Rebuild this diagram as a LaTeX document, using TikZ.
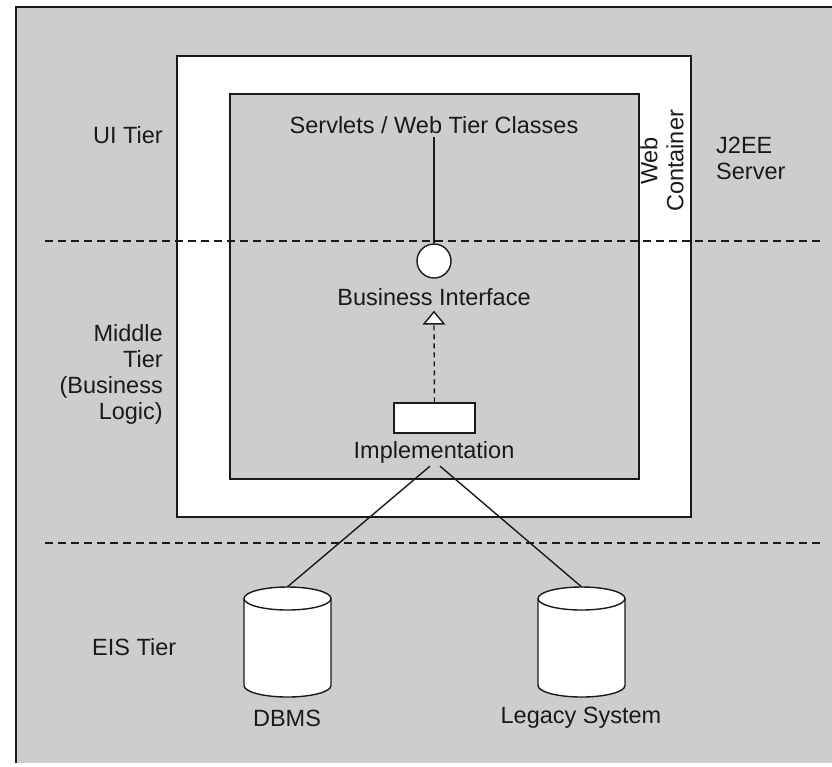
\documentclass[tikz,border=0pt]{standalone}
\usepackage{fontspec}
\setmainfont{Liberation Sans}
\usetikzlibrary{arrows.meta}
\definecolor{bggray}{HTML}{CDCDCD}
\definecolor{ink}{HTML}{1A1A1A}
\newcommand{\dbcyl}[2]{%
  \node[minimum width=87pt, minimum height=110pt, inner sep=0pt] (#2) at (#1,642) {};
  \filldraw[fill=white, draw=ink, line width=1.4pt] (#1-43.5,598.5) -- (#1-43.5,685.5)
     arc[start angle=180, end angle=360, x radius=43.5pt, y radius=11.5pt] -- (#1+43.5,598.5);
  \filldraw[fill=white, draw=ink, line width=1.4pt] (#1,598.5) ellipse[x radius=43.5pt, y radius=11.5pt];
}
\begin{document}
\begin{tikzpicture}[x=1pt,y=-1pt,
  lbl/.style={font=\fontsize{23.5}{26}\selectfont, text=ink, inner sep=0pt},
  box/.style={draw=ink, line width=1.6pt, inner sep=0pt},
  tierline/.style={draw=ink, line width=1.4pt, dash pattern=on 8pt off 5pt},
  conn/.style={draw=ink, line width=1.4pt},
  headtri/.style={draw=ink, line width=1.4pt, fill=white, line join=miter}]
\useasboundingbox (0,0) rectangle (832,766);
\fill[bggray] (16,7) rectangle (832,763);
\draw[ink, line width=2pt] (16,763) -- (16,7) -- (832,7);

% boxes
\node[box, fill=white, minimum width=514pt, minimum height=461pt] (server) at (434,286.5) {};
\node[box, fill=bggray, minimum width=409pt, minimum height=385pt] (web) at (434.5,286.5) {};

% tier separators
\coordinate (t1a) at (45,241);
\coordinate (t1b) at (822,241);
\coordinate (t2a) at (45,543);
\coordinate (t2b) at (822,543);
\draw[tierline] (t1a) -- (t1b);
\draw[tierline] (t2a) -- (t2b);

% labels
\node[lbl, anchor=east] (ui) at (163,135) {UI Tier};
\node[lbl, anchor=east, align=right] (mid) at (163,374) {Middle\\Tier\\(Business\\Logic)};
\node[lbl, anchor=west] (eis) at (92,647) {EIS Tier};
\node[lbl, anchor=west, align=left] (j2ee) at (716,158) {J2EE\\Server};
\node[lbl, rotate=90, align=center] (wc) at (662,161) {Web\\Container};

% components
\node[lbl] (servlets) at (434,125) {Servlets / Web Tier Classes};
\node[draw=ink, line width=1.4pt, fill=white, circle, minimum size=34pt, inner sep=0pt] (iface) at (434,261) {};
\node[lbl] (bitext) at (434,297) {Business Interface};
\node[draw=ink, line width=1.4pt, fill=white, minimum width=81pt, minimum height=30pt, inner sep=0pt] (impl) at (434.5,418) {};
\node[lbl] (impltext) at (434,452) {Implementation};

\dbcyl{287.5}{dbms}
\dbcyl{581.5}{legacy}
\node[lbl] (dbmstext) at (287,718) {DBMS};
\node[lbl] (legtext) at (581,718) {Legacy System};

% connectors
\draw[conn, shorten <=3pt] (servlets.south) -- (iface.north);
\coordinate (tip) at ([yshift=-6pt]bitext.south);
\draw[conn, dash pattern=on 5pt off 4pt] (impl.north) -- ([yshift=-12pt]tip);
\draw[headtri] (tip) -- ++(-10,12) -- ++(20,0) -- cycle;
\draw[conn] ([xshift=-4pt,yshift=-3pt]impltext.south) -- (dbms.north);
\draw[conn] ([xshift=6pt,yshift=-3pt]impltext.south) -- (legacy.north);
\end{tikzpicture}
\end{document}
